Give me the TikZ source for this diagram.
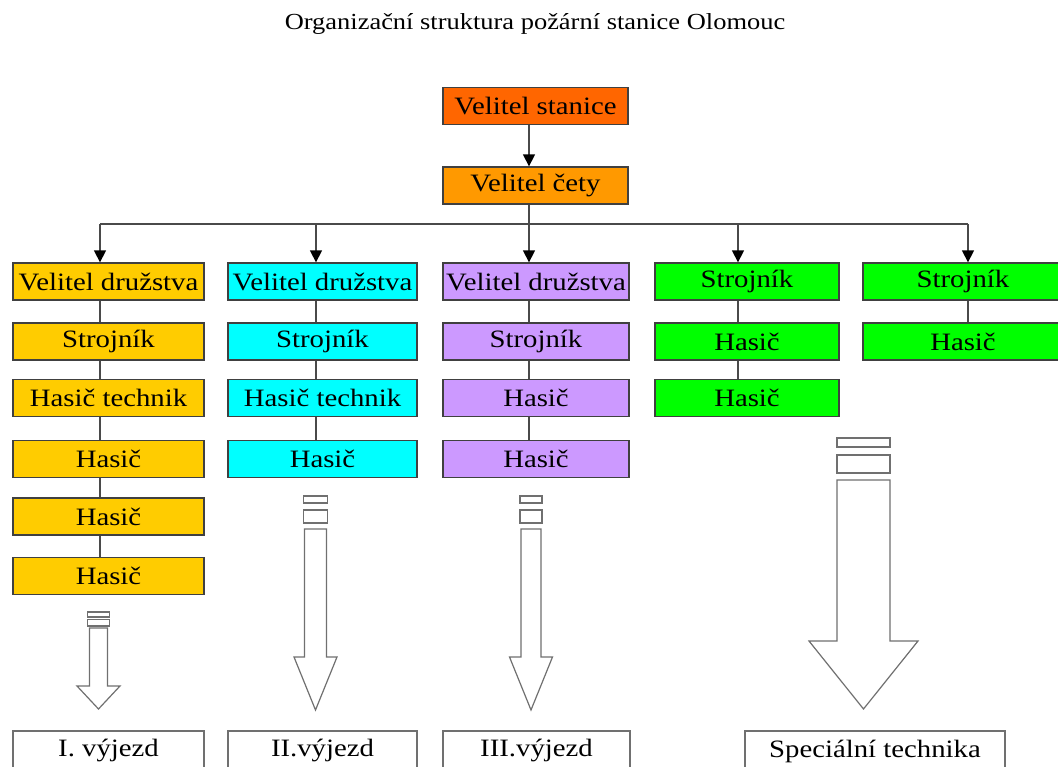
\documentclass[tikz,border=0pt]{standalone}
\usepackage{fontspec}
\setmainfont[FakeStretch=1.15]{Liberation Serif}
\usetikzlibrary{arrows.meta}
\definecolor{cStan}{HTML}{FF6600}
\definecolor{cCety}{HTML}{FF9900}
\definecolor{cGold}{HTML}{FFCC00}
\definecolor{cCyan}{HTML}{00FFFF}
\definecolor{cLav}{HTML}{CC99FF}
\definecolor{cGreen}{HTML}{00FF00}
\definecolor{cLine}{HTML}{4A4A4A}
\definecolor{cOut}{HTML}{707070}
\begin{document}
\begin{tikzpicture}[x=1pt,y=-1pt,
  orgbox/.style={draw=black!75, line width=1.3pt, minimum height=37pt, inner sep=0pt,
    font=\fontsize{25}{25}\selectfont, text=black},
  outbox/.style={draw=cOut, line width=1.2pt, minimum height=40pt, inner sep=0pt, fill=white,
    font=\fontsize{25}{25}\selectfont, text=black},
  link/.style={draw=cLine, line width=1.4pt},
  arr/.style={link, -{Triangle[width=12pt,length=12pt,color=black]}},
  blockarr/.style={draw=cOut, line width=1.2pt, fill=white, line join=miter}]
\clip (0,0) rectangle (1058,767);
\fill[white] (0,0) rectangle (1058,767);

\node (title) at (535,24) {\fontsize{23}{23}\selectfont Organizační struktura požární stanice Olomouc};

% top
\node[orgbox, fill=cStan, minimum width=185pt] (stan) at (535.5,106) {Velitel stanice};
\node[orgbox, fill=cCety, minimum width=185pt] (cety) at (535.5,185.5) {Velitel čety};

% column 1
\node[orgbox, fill=cGold, minimum width=191pt] (a0) at (108.5,281.5) {Velitel družstva};
\node[orgbox, fill=cGold, minimum width=191pt] (a1) at (108.5,341.5) {Strojník};
\node[orgbox, fill=cGold, minimum width=191pt] (a2) at (108.5,398) {Hasič technik};
\node[orgbox, fill=cGold, minimum width=191pt] (a3) at (108.5,459) {Hasič};
\node[orgbox, fill=cGold, minimum width=191pt] (a4) at (108.5,516.5) {Hasič};
\node[orgbox, fill=cGold, minimum width=191pt] (a5) at (108.5,576) {Hasič};

% column 2
\node[orgbox, fill=cCyan, minimum width=189pt] (b0) at (322.5,281.5) {Velitel družstva};
\node[orgbox, fill=cCyan, minimum width=189pt] (b1) at (322.5,341.5) {Strojník};
\node[orgbox, fill=cCyan, minimum width=189pt] (b2) at (322.5,398) {Hasič technik};
\node[orgbox, fill=cCyan, minimum width=189pt] (b3) at (322.5,459) {Hasič};

% column 3
\node[orgbox, fill=cLav, minimum width=186pt] (c0) at (536,281.5) {Velitel družstva};
\node[orgbox, fill=cLav, minimum width=186pt] (c1) at (536,341.5) {Strojník};
\node[orgbox, fill=cLav, minimum width=186pt] (c2) at (536,398) {Hasič};
\node[orgbox, fill=cLav, minimum width=186pt] (c3) at (536,459) {Hasič};

% column 4
\node[orgbox, fill=cGreen, minimum width=184pt] (d0) at (747,281.5) {Strojník};
\node[orgbox, fill=cGreen, minimum width=184pt] (d1) at (747,341.5) {Hasič};
\node[orgbox, fill=cGreen, minimum width=184pt] (d2) at (747,398) {Hasič};

% column 5
\node[orgbox, fill=cGreen, minimum width=200pt] (e0) at (963,281.5) {Strojník};
\node[orgbox, fill=cGreen, minimum width=200pt] (e1) at (963,341.5) {Hasič};

% connectors
\draw[arr] ([xshift=-6.5pt]stan.south) -- ([xshift=-6.5pt]cety.north);
\coordinate (busL) at (100,224);
\coordinate (busR) at (968,224);
\draw[link] (busL) -- (busR);
\draw[arr] ([xshift=-6.5pt]cety.south) -- ([xshift=-7pt]c0.north);
\draw[arr] (busL) -- ([xshift=-8.5pt]a0.north);
\draw[arr] ([xshift=-6.5pt]b0.north |- busL) -- ([xshift=-6.5pt]b0.north);
\draw[arr] ([xshift=-9pt]d0.north |- busL) -- ([xshift=-9pt]d0.north);
\draw[arr] (busR) -- ([xshift=5pt]e0.north);

\foreach \p/\q in {a0/a1,a1/a2,a2/a3,a3/a4,a4/a5}
  \draw[link] ([xshift=-8.5pt]\p.south) -- ([xshift=-8.5pt]\q.north);
\foreach \p/\q in {b0/b1,b1/b2,b2/b3}
  \draw[link] ([xshift=-6.5pt]\p.south) -- ([xshift=-6.5pt]\q.north);
\foreach \p/\q in {c0/c1,c1/c2,c2/c3}
  \draw[link] ([xshift=-7pt]\p.south) -- ([xshift=-7pt]\q.north);
\foreach \p/\q in {d0/d1,d1/d2}
  \draw[link] ([xshift=-9pt]\p.south) -- ([xshift=-9pt]\q.north);
\draw[link] ([xshift=5pt]e0.south) -- ([xshift=5pt]e1.north);

% block arrows
% column 1
\draw[blockarr] (87.5,612) rectangle (109.5,617);
\draw[blockarr] (87.5,619.5) rectangle (109.5,626);
\draw[blockarr] (89.5,628) -- (89.5,686) -- (77,686) -- (98.5,709) -- (120,686) -- (107.5,686) -- (107.5,628) -- cycle;
% column 2
\draw[blockarr] (303.5,496) rectangle (327.5,503);
\draw[blockarr] (303.5,510) rectangle (327.5,523);
\draw[blockarr] (304.5,529) -- (304.5,657) -- (294,657) -- (315.5,710) -- (337,657) -- (326.5,657) -- (326.5,529) -- cycle;
% column 3
\draw[blockarr] (520,496) rectangle (542,503);
\draw[blockarr] (520,510) rectangle (542,523);
\draw[blockarr] (521,529) -- (521,657) -- (509.5,657) -- (531,710) -- (552.5,657) -- (541,657) -- (541,529) -- cycle;
% column 4
\draw[blockarr] (837,438) rectangle (890,447);
\draw[blockarr] (837,455) rectangle (890,473);
\draw[blockarr] (837,480) -- (837,641) -- (809,641) -- (863.5,709) -- (918,641) -- (890,641) -- (890,480) -- cycle;

% bottom boxes
\node[outbox, minimum width=191pt] (o1) at (108.5,751) {I. výjezd};
\node[outbox, minimum width=189pt] (o2) at (322.5,751) {II.výjezd};
\node[outbox, minimum width=187pt] (o3) at (536.5,751) {III.výjezd};
\node[outbox, minimum width=260pt] (o4) at (875,751) {Speciální technika};
\end{tikzpicture}
\end{document}
